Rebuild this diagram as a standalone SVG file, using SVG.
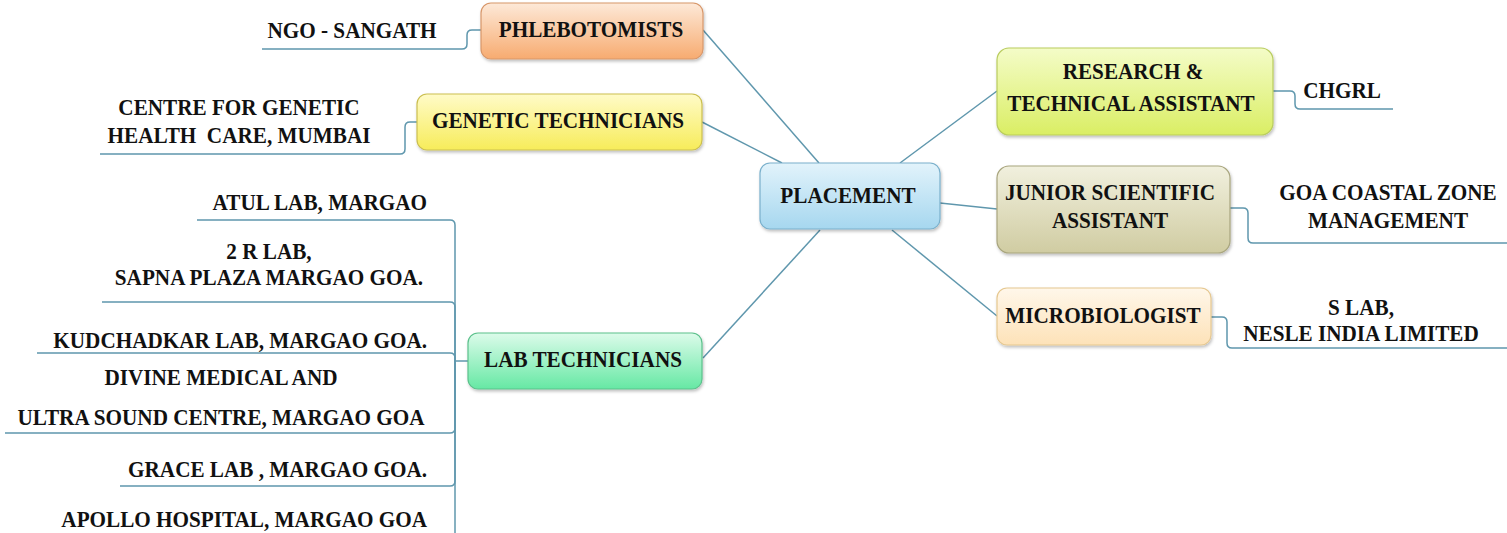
<svg xmlns="http://www.w3.org/2000/svg" width="1507" height="533" viewBox="0 0 1507 533">
<defs>
<linearGradient id="gOrange" x1="0" y1="0" x2="0" y2="1"><stop offset="0" stop-color="#fde9d8"/><stop offset="1" stop-color="#f7ab70"/></linearGradient>
<linearGradient id="gYellow" x1="0" y1="0" x2="0" y2="1"><stop offset="0" stop-color="#fffbc8"/><stop offset="1" stop-color="#f7ec5a"/></linearGradient>
<linearGradient id="gBlue" x1="0" y1="0" x2="0" y2="1"><stop offset="0" stop-color="#e2f3fb"/><stop offset="1" stop-color="#a6d7ef"/></linearGradient>
<linearGradient id="gGreen" x1="0" y1="0" x2="0" y2="1"><stop offset="0" stop-color="#dcfbea"/><stop offset="1" stop-color="#66e8a4"/></linearGradient>
<linearGradient id="gLime" x1="0" y1="0" x2="0" y2="1"><stop offset="0" stop-color="#f4fcc8"/><stop offset="1" stop-color="#daee64"/></linearGradient>
<linearGradient id="gKhaki" x1="0" y1="0" x2="0" y2="1"><stop offset="0" stop-color="#f1f0de"/><stop offset="1" stop-color="#d0cca2"/></linearGradient>
<linearGradient id="gPeach" x1="0" y1="0" x2="0" y2="1"><stop offset="0" stop-color="#fff7ea"/><stop offset="1" stop-color="#fde2b8"/></linearGradient>
<filter id="shadow" x="-10%" y="-20%" width="120%" height="150%"><feDropShadow dx="1" dy="2" stdDeviation="1.5" flood-color="#000" flood-opacity="0.25"/></filter>
</defs>
<style>
text{font-family:'Liberation Serif','DejaVu Serif',serif;font-weight:bold;font-size:21.2px;fill:#111;transform-box:fill-box;transform-origin:50% 78%;transform:scaleY(1.06);}
.c{text-anchor:middle;}
.e{text-anchor:end;}
.con{fill:none;stroke:#5f97ad;stroke-width:1.5;}
.box{stroke-width:1.2;filter:url(#shadow);}
</style>
<rect width="1507" height="533" fill="#ffffff"/>
<g id="connectors">
<path class="con" d="M703,30 L819,163"/>
<path class="con" d="M702,122 L782,163"/>
<path class="con" d="M703,358 L820,230"/>
<path class="con" d="M900,163 L997,91"/>
<path class="con" d="M940,203 L997,209"/>
<path class="con" d="M892,230 L997,316"/>
<path class="con" d="M262,49 H462 Q467,49 467,44 V35 Q467,30 472,30 H481"/>
<path class="con" d="M100,154 H400 Q405,154 405,149 V127 Q405,122 410,122 H417"/>
<path class="con" d="M197,220 H450 Q455,220 455,225 V361"/>
<path class="con" d="M102,302 H450 Q455,302 455,307 V361"/>
<path class="con" d="M37,353 H450 Q455,353 455,358 V361"/>
<path class="con" d="M5,433 H450 Q455,433 455,428 V361"/>
<path class="con" d="M120,486 H450 Q455,486 455,481 V361"/>
<path class="con" d="M455,361 V533"/>
<path class="con" d="M455,361 H468"/>
<path class="con" d="M1273,91 H1290 Q1295,91 1295,96 V104 Q1295,109 1300,109 H1393"/>
<path class="con" d="M1230,208 H1243 Q1248,208 1248,213 V238 Q1248,243 1253,243 H1507"/>
<path class="con" d="M1211,317 H1222 Q1227,317 1227,322 V343 Q1227,348 1232,348 H1507"/>
</g>
<g id="placement">
<rect class="box" x="760" y="163" width="180" height="66" rx="10" fill="url(#gBlue)" stroke="#7ab0cc"/>
<text class="c" x="848" y="203">PLACEMENT</text>
</g>
<g id="phlebotomists">
<rect class="box" x="481" y="3" width="222" height="56" rx="10" fill="url(#gOrange)" stroke="#d8976a"/>
<text class="c" x="591" y="37">PHLEBOTOMISTS</text>
</g>
<g id="genetic-technicians">
<rect class="box" x="417" y="94" width="285" height="56" rx="10" fill="url(#gYellow)" stroke="#cbbf50"/>
<text class="c" x="558" y="128">GENETIC TECHNICIANS</text>
</g>
<g id="lab-technicians">
<rect class="box" x="468" y="333" width="234" height="56" rx="10" fill="url(#gGreen)" stroke="#5cc18c"/>
<text class="c" x="583" y="367">LAB TECHNICIANS</text>
</g>
<g id="research">
<rect class="box" x="997" y="48" width="276" height="87" rx="12" fill="url(#gLime)" stroke="#b9cc5e"/>
<text class="c" x="1133" y="79">RESEARCH &amp;</text>
<text class="c" x="1131" y="111">TECHNICAL ASSISTANT</text>
</g>
<g id="junior">
<rect class="box" x="997" y="166" width="233" height="87" rx="12" fill="url(#gKhaki)" stroke="#a8a57e"/>
<text class="c" x="1110" y="200">JUNIOR SCIENTIFIC</text>
<text class="c" x="1110" y="228">ASSISTANT</text>
</g>
<g id="microbiologist">
<rect class="box" x="997" y="288" width="214" height="57" rx="10" fill="url(#gPeach)" stroke="#e6c890"/>
<text class="c" x="1103" y="323">MICROBIOLOGIST</text>
</g>
<g id="ngo-sangath"><text class="c" x="352" y="38">NGO - SANGATH</text></g>
<g id="centre-genetic">
<text class="c" x="239" y="115">CENTRE FOR GENETIC</text>
<text class="c" x="239" y="143" xml:space="preserve">HEALTH  CARE, MUMBAI</text>
</g>
<g id="atul"><text class="e" x="427" y="210">ATUL LAB, MARGAO</text></g>
<g id="two-r">
<text class="c" x="269" y="259">2 R LAB,</text>
<text class="c" x="269" y="285">SAPNA PLAZA MARGAO GOA.</text>
</g>
<g id="kudchadkar"><text class="e" x="427" y="348">KUDCHADKAR LAB, MARGAO GOA.</text></g>
<g id="divine">
<text class="c" x="221" y="385">DIVINE MEDICAL AND</text>
<text class="c" x="221" y="425">ULTRA SOUND CENTRE, MARGAO GOA</text>
</g>
<g id="grace"><text class="e" x="427" y="477">GRACE LAB , MARGAO GOA.</text></g>
<g id="apollo"><text class="e" x="427" y="527">APOLLO HOSPITAL, MARGAO GOA</text></g>
<g id="chgrl"><text class="c" x="1342" y="98">CHGRL</text></g>
<g id="goa-coastal">
<text class="c" x="1388" y="200">GOA COASTAL ZONE</text>
<text class="c" x="1388" y="228">MANAGEMENT</text>
</g>
<g id="s-lab">
<text class="c" x="1361" y="315">S LAB,</text>
<text class="c" x="1361" y="341">NESLE INDIA LIMITED</text>
</g>
</svg>
